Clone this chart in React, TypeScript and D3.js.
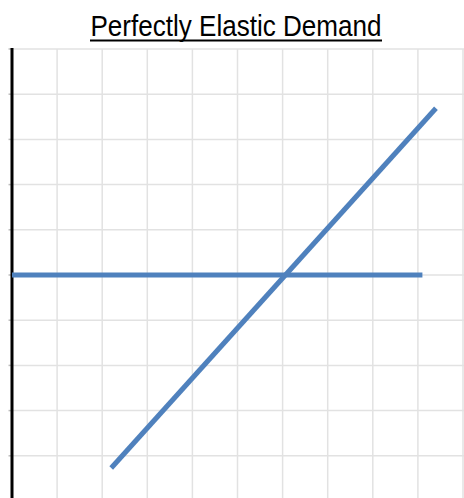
import React from "react";
import * as d3 from "d3";

const title = "Perfectly Elastic Demand";

// grid positions in chart units
const gridX = [1, 2, 3, 4, 5, 6, 7, 8, 9, 10];
const gridY = [1, 2, 3, 4, 5, 6, 7, 8, 9, 10];

// demand (horizontal) line
const demandX = [0, 9.1];
const demandY = [5, 5];

// supply (diagonal) line
const supplyX = [2.2, 9.4];
const supplyY = [0.73, 8.69];

const width = 464;
const height = 498;

const App: React.FC = () => {
  const x = d3.scaleLinear().domain([0, 10]).range([12, 463]);
  const y = d3.scaleLinear().domain([0, 10]).range([501, 49]);

  const line = d3
    .line<[number, number]>()
    .x((d) => x(d[0]))
    .y((d) => y(d[1]));

  const demand = demandX.map((v, i) => [v, demandY[i]] as [number, number]);
  const supply = supplyX.map((v, i) => [v, supplyY[i]] as [number, number]);

  return (
    <svg
      width={width}
      height={height}
      style={{ position: "absolute", left: 0, top: 0, background: "#fff" }}
    >
      {/* Title */}
      <text
        x={236}
        y={36}
        textAnchor="middle"
        textLength={291}
        lengthAdjust="spacingAndGlyphs"
        style={{
          fontFamily: "'Liberation Sans Narrow', 'Arial Narrow', 'Liberation Sans', Arial, sans-serif",
          fontSize: "29px",
          fill: "#000",
        }}
      >
        {title}
      </text>
      <line x1={90} x2={382} y1={40.5} y2={40.5} stroke="#000" strokeWidth={2} />

      {/* Grid */}
      {gridX.map((g) => (
        <line
          key={"gx" + g}
          x1={x(g)}
          x2={x(g)}
          y1={y(10)}
          y2={height}
          stroke="#e2e2e2"
          strokeWidth={1.5}
        />
      ))}
      {gridY.map((g) => (
        <line
          key={"gy" + g}
          x1={x(0)}
          x2={width}
          y1={y(g)}
          y2={y(g)}
          stroke="#e2e2e2"
          strokeWidth={1.5}
        />
      ))}

      {/* Axis ticks */}
      {gridY.map((g) => (
        <line
          key={"t" + g}
          x1={8.5}
          x2={x(0)}
          y1={y(g)}
          y2={y(g)}
          stroke="#bdbdbd"
          strokeWidth={1.5}
        />
      ))}
      {/* Y axis */}
      <line x1={x(0)} x2={x(0)} y1={y(10) - 1} y2={height} stroke="#000" strokeWidth={3} />

      {/* Lines */}
      <path d={line(demand) || ""} fill="none" stroke="#4f81bd" strokeWidth={5} />
      <path d={line(supply) || ""} fill="none" stroke="#4f81bd" strokeWidth={5} />
    </svg>
  );
};

export default App;
